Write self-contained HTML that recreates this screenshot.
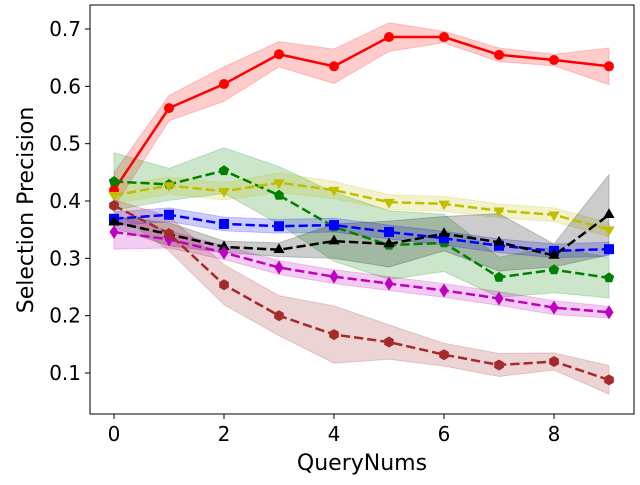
<!DOCTYPE html>
<html><head><meta charset="utf-8"><style>
body{margin:0;background:#fff}
text{font-family:"DejaVu Sans","Liberation Sans",sans-serif;fill:#000}
</style></head><body>
<svg id="c" width="640" height="480" xmlns="http://www.w3.org/2000/svg"></svg>
<script>
const xs=[0,1,2,3,4,5,6,7,8,9];
const xTicks=[0,2,4,6,8];
const yTicks=[0.1,0.2,0.3,0.4,0.5,0.6,0.7];
const redVals=[0.419,0.562,0.604,0.656,0.635,0.686,0.686,0.655,0.646,0.635];
const redErr=[0.03,0.022,0.03,0.022,0.03,0.025,0.01,0.012,0.01,0.032];
const greenVals=[0.434,0.429,0.453,0.41,0.355,0.323,0.327,0.267,0.28,0.266];
const greenErr=[0.05,0.028,0.04,0.05,0.06,0.06,0.05,0.035,0.04,0.035];
const yellowVals=[0.41,0.427,0.417,0.432,0.419,0.398,0.395,0.383,0.376,0.35];
const yellowErr=[0.015,0.015,0.015,0.017,0.015,0.013,0.013,0.012,0.012,0.012];
const blueVals=[0.369,0.376,0.36,0.356,0.358,0.346,0.335,0.322,0.313,0.316];
const blueErr=[0.012,0.012,0.012,0.012,0.012,0.012,0.012,0.012,0.012,0.012];
const blackVals=[0.363,0.342,0.32,0.315,0.33,0.325,0.343,0.328,0.305,0.376];
const blackErr=[0.01,0.02,0.01,0.012,0.03,0.04,0.03,0.05,0.02,0.07];
const magentaVals=[0.346,0.333,0.31,0.284,0.268,0.256,0.244,0.23,0.214,0.206];
const magentaErr=[0.03,0.015,0.012,0.012,0.012,0.012,0.012,0.012,0.012,0.01];
const brownVals=[0.392,0.343,0.254,0.2,0.167,0.154,0.132,0.114,0.12,0.088];
const brownErr=[0.01,0.03,0.035,0.035,0.05,0.03,0.02,0.02,0.015,0.025];
const series=[
 {n:'red',v:redVals,e:redErr,c:'#ff0000',m:'circle',dash:false},
 {n:'green',v:greenVals,e:greenErr,c:'#008000',m:'pentagon',dash:true},
 {n:'yellow',v:yellowVals,e:yellowErr,c:'#bfbf00',m:'tridown',dash:true},
 {n:'blue',v:blueVals,e:blueErr,c:'#0000ff',m:'square',dash:true},
 {n:'black',v:blackVals,e:blackErr,c:'#000000',m:'triup',dash:true},
 {n:'magenta',v:magentaVals,e:magentaErr,c:'#bf00bf',m:'diamond',dash:true},
 {n:'brown',v:brownVals,e:brownErr,c:'#a52a2a',m:'hexagon',dash:true}
];
const L=90,R=634,T=5,B=414;
const X=v=>114+v*55;
const Y=v=>373-(v-0.1)*573.3;
const svg=document.getElementById('c');
const NS='http://www.w3.org/2000/svg';
function mk(t,a,p){const e=document.createElementNS(NS,t);for(const k in a)e.setAttribute(k,a[k]);(p||svg).appendChild(e);return e;}
function poly(n,r,cx,cy,rot){let p=[];for(let i=0;i<n;i++){const a=rot+i*2*Math.PI/n;p.push((cx+r*Math.cos(a)).toFixed(1)+','+(cy+r*Math.sin(a)).toFixed(1));}return p.join(' ');}
series.forEach(s=>{
  const up=xs.map((x,i)=>X(x)+','+Y(s.v[i]+s.e[i]));
  const dn=xs.map((x,i)=>X(x)+','+Y(s.v[i]-s.e[i])).reverse();
  const b=mk('polygon',{points:up.concat(dn).join(' '),fill:s.c,'fill-opacity':0.2,stroke:s.c,'stroke-opacity':0.2});
  
  
});
series.forEach(s=>{
  const g=mk('g',{});
  
  
  const a={points:xs.map((x,i)=>X(x)+','+Y(s.v[i])).join(' '),fill:'none',stroke:s.c,'stroke-width':2.5};
  if(s.dash)a['stroke-dasharray']='9.25,4';
  mk('polyline',a,g);
  xs.forEach((x,i)=>{
    const cx=X(x),cy=Y(s.v[i]);let e;
    if(s.m==='circle')e=mk('circle',{cx,cy,r:5,fill:s.c},g);
    else if(s.m==='square')e=mk('rect',{x:cx-5,y:cy-5,width:10,height:10,fill:s.c},g);
    else if(s.m==='pentagon')e=mk('polygon',{points:poly(5,5.5,cx,cy,-Math.PI/2),fill:s.c},g);
    else if(s.m==='hexagon')e=mk('polygon',{points:poly(6,5.5,cx,cy,-Math.PI/2),fill:s.c},g);
    else if(s.m==='triup')e=mk('polygon',{points:poly(3,6.5,cx,cy,-Math.PI/2),fill:s.c},g);
    else if(s.m==='tridown')e=mk('polygon',{points:poly(3,6.5,cx,cy,Math.PI/2),fill:s.c},g);
    else e=mk('polygon',{points:`${cx},${cy-7} ${cx+4.5},${cy} ${cx},${cy+7} ${cx-4.5},${cy}`,fill:s.c},g);
    
    
  });
});
const f=mk('rect',{x:L,y:T,width:R-L,height:B-T,fill:'none',stroke:'#000','stroke-width':1});


xTicks.forEach(t=>{
  mk('line',{x1:X(t),x2:X(t),y1:B,y2:B+5,stroke:'#000'});
  const tx=mk('text',{x:X(t),y:B+27,'text-anchor':'middle','font-size':20});tx.textContent=t;
  
  
});
yTicks.forEach(t=>{
  mk('line',{x1:L-5,x2:L,y1:Y(t),y2:Y(t),stroke:'#000'});
  const tx=mk('text',{x:L-9,y:Y(t)+7,'text-anchor':'end','font-size':20});tx.textContent=t.toFixed(1);
  
  
});
const xl=mk('text',{x:362,y:470,'text-anchor':'middle','font-size':22});xl.textContent='QueryNums';


const yl=mk('text',{x:0,y:0,'text-anchor':'middle','font-size':22,transform:'translate(33,210) rotate(-90)'});yl.textContent='Selection Precision';


</script>
</body></html>
